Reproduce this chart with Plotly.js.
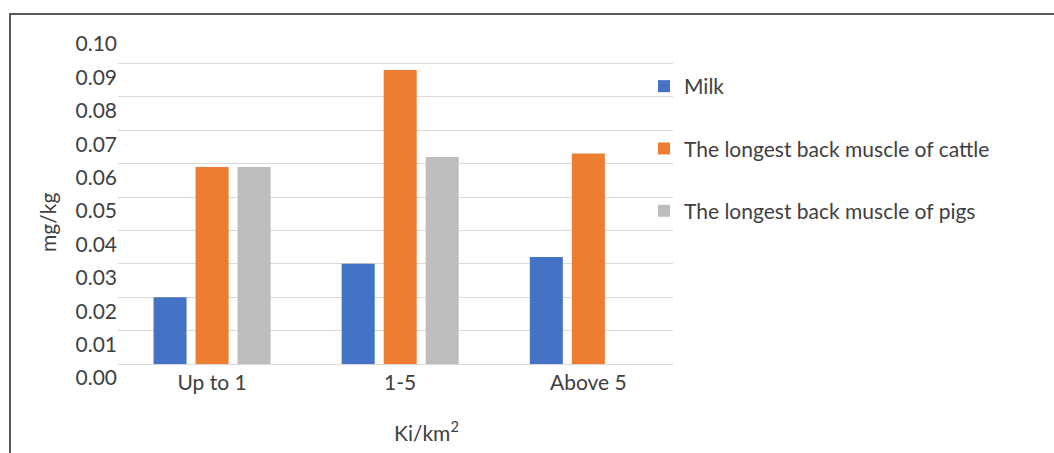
<!DOCTYPE html>
<html>
<head>
<meta charset="utf-8">
<script src="https://cdn.plot.ly/plotly-3.0.1.min.js"></script>
<style>
  html, body { margin: 0; padding: 0; background: #fff; overflow: hidden; }
  #frame { position: absolute; left: 9px; top: 13px; width: 1200px; height: 600px;
           border-top: 2px solid #595959; border-left: 2px solid #595959; }
  #chart { position: absolute; left: 0; top: 0; width: 1054px; height: 453px; }
</style>
</head>
<body>
<div id="frame"></div>
<div id="chart"></div>
<script>
// ---- data ----
const categories = ["Up to 1", "1-5", "Above 5"];
const seriesNames = ["Milk", "The longest back muscle of cattle", "The longest back muscle of pigs"];
const milk   = [0.020, 0.030, 0.032];
const cattle = [0.059, 0.088, 0.063];
const pigs   = [0.059, 0.062, null];
const yTicks = [0, 0.01, 0.02, 0.03, 0.04, 0.05, 0.06, 0.07, 0.08, 0.09, 0.10];
const yTickText = ["0.00","0.01","0.02","0.03","0.04","0.05","0.06","0.07","0.08","0.09","0.10"];
const yTitle = "mg/kg";
const xTitle = "Ki/km<sup>2</sup>";

const colors = ["#4472C4", "#ED7D31", "#BDBDBD"];
const values = [milk, cattle, pigs];
const FONT = "Lato, 'Noto Sans', sans-serif";
const TXT = "#404040";
const FS = 21;

const traces = values.map((v, i) => ({
  type: "bar",
  name: seriesNames[i],
  x: categories,
  y: v,
  marker: { color: colors[i] },
  legendgroup: "g" + i,
  hoverinfo: "x+y+name"
}));

const layout = {
  width: 1054, height: 453,
  paper_bgcolor: "rgba(0,0,0,0)",
  plot_bgcolor: "rgba(0,0,0,0)",
  margin: { l: 118, r: 381, t: 30, b: 89, pad: 0 },
  barmode: "group",
  bargap: 0.33,
  bargroupgap: 0.214,
  font: { family: FONT, size: FS, color: TXT },
  showlegend: true,
  legend: {
    x: 1.0 - 29 / 555, xref: "paper", xanchor: "left",
    y: 1 - 36 / 334, yanchor: "top",
    traceorder: "grouped",
    tracegroupgap: 32,
    font: { family: FONT, size: FS, color: TXT },
    bgcolor: "rgba(0,0,0,0)"
  },
  xaxis: {
    type: "category",
    range: [-0.5, 2.45],
    showgrid: false,
    showline: true, linecolor: "#D9D9D9", linewidth: 1,
    ticks: "",
    tickfont: { family: FONT, size: FS, color: TXT },
    zeroline: false
  },
  yaxis: {
    range: [0, 0.1],
    tickmode: "array",
    tickvals: yTicks,
    ticktext: yTickText,
    showgrid: true, gridcolor: "#D9D9D9", gridwidth: 1,
    zeroline: false,
    showline: false,
    ticks: "",
    ticklabelshift: 14,
    tickfont: { family: FONT, size: FS, color: TXT }
  },
  annotations: [
    { text: yTitle, xref: "paper", yref: "paper", x: -0.128, y: 0.5 - 25/334,
      xanchor: "center", yanchor: "middle", textangle: -90, showarrow: false,
      font: { family: FONT, size: FS, color: TXT } },
    { text: xTitle, xref: "paper", yref: "paper", x: (426 - 118) / 555, y: -(430 - 363.5) / 334,
      xanchor: "center", yanchor: "middle", showarrow: false,
      font: { family: FONT, size: FS, color: TXT } }
  ]
};

Plotly.newPlot("chart", traces, layout, { staticPlot: true, displayModeBar: false });
</script>
</body>
</html>
